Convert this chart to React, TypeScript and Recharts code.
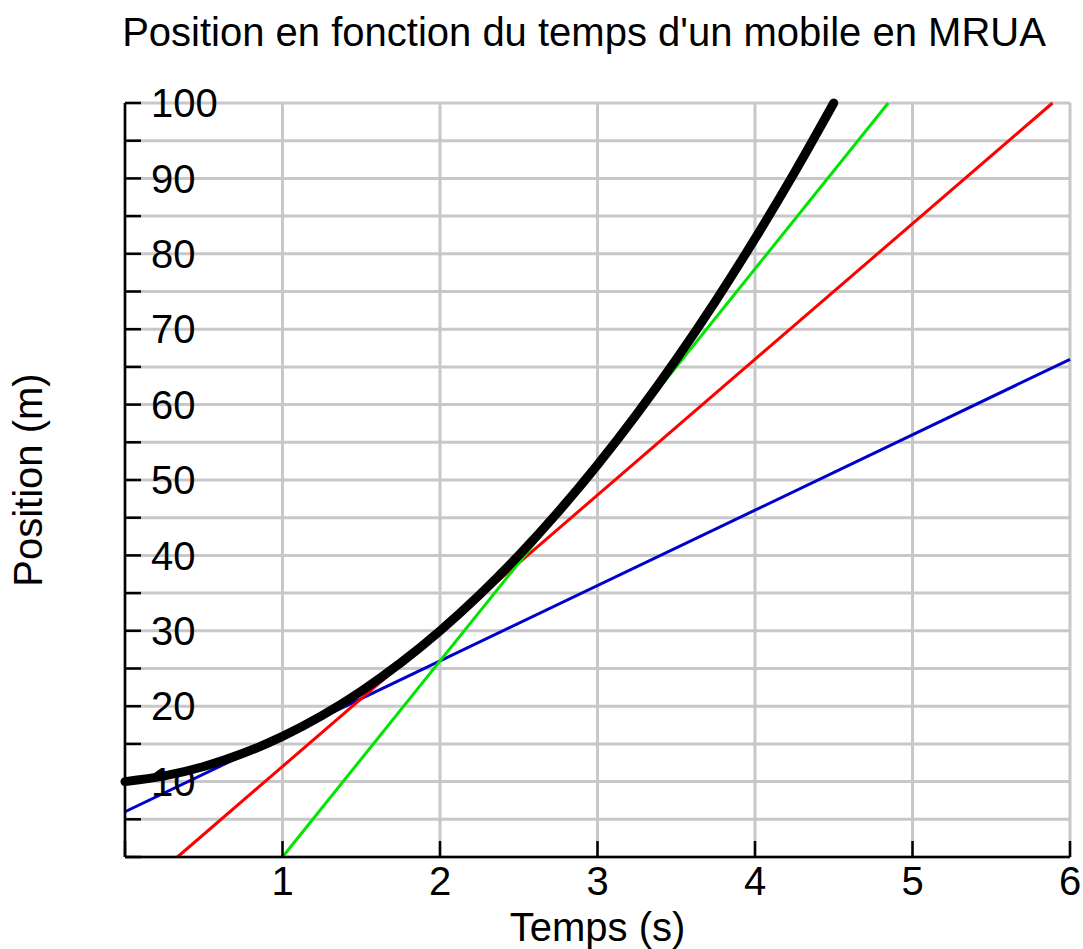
import React from 'react';
import { LineChart, Line, XAxis, YAxis, CartesianGrid } from 'recharts';

// Black curve: position (m) vs time (s)
const timeSamples = [0, 0.25, 0.5, 0.75, 1, 1.25, 1.5, 1.75, 2, 2.25, 2.5, 2.75, 3, 3.25, 3.5, 3.75, 4, 4.25, 4.5];
const positionSamples = [10, 10.75, 12, 13.75, 16, 18.75, 22, 25.75, 30, 34.75, 40, 45.75, 52, 58.75, 66, 73.75, 82, 90.75, 100];

// Tangent lines (end points)
const blueTimes = [0, 6];
const bluePositions = [6, 66];
const redTimes = [0.333, 5.889];
const redPositions = [0, 100];
const greenTimes = [1, 4.846];
const greenPositions = [0, 100];

const xTicks = [0, 1, 2, 3, 4, 5, 6];
const yTicks = [0, 5, 10, 15, 20, 25, 30, 35, 40, 45, 50, 55, 60, 65, 70, 75, 80, 85, 90, 95, 100];

const TITLE = "Position en fonction du temps d'un mobile en MRUA";
const X_LABEL = 'Temps (s)';
const Y_LABEL = 'Position (m)';

const zip = (ts: number[], ps: number[]) => ts.map((t, i) => ({ t, pos: ps[i] }));

const curveData = zip(timeSamples, positionSamples);
const blueData = zip(blueTimes, bluePositions);
const redData = zip(redTimes, redPositions);
const greenData = zip(greenTimes, greenPositions);

const FONT = '"Liberation Sans", Arial, sans-serif';

const XTick = (props: any) => {
  const { x, y, payload } = props;
  const v = payload.value;
  return (
    <g>
      <line x1={x} x2={x} y1={y} y2={y - 16} stroke="#000" strokeWidth={2.5} />
      {v !== 0 && (
        <text x={x} y={y + 10} dy="0.71em" textAnchor="middle" fontSize={40} fill="#000" fontFamily={FONT}>
          {v}
        </text>
      )}
    </g>
  );
};

const YTick = (props: any) => {
  const { x, y, payload } = props;
  const v = payload.value;
  return (
    <g>
      <line x1={x} x2={x + 16} y1={y} y2={y} stroke="#000" strokeWidth={2.5} />
      {v % 10 === 0 && v !== 0 && (
        <text x={x + 26} y={y} dy="0.355em" textAnchor="start" fontSize={40} fill="#000" fontFamily={FONT}>
          {v}
        </text>
      )}
    </g>
  );
};

export default function App() {
  return (
    <div style={{ position: 'absolute', left: 0, top: 0, width: 1083, height: 949, background: '#fff', fontFamily: FONT }}>
      <svg width={1083} height={70} style={{ position: 'absolute', left: 0, top: 0 }}>
        <text x={584} y={46} textAnchor="middle" fontSize={40} fill="#000" fontFamily={FONT}>
          {TITLE}
        </text>
      </svg>
      <div style={{ position: 'absolute', left: 0, top: 0 }}>
        <LineChart width={1083} height={949} margin={{ top: 103, right: 13, bottom: 0, left: 0 }} style={{ fontFamily: FONT }}>
          <CartesianGrid stroke="#c8c8c8" strokeWidth={3} />
          <XAxis
            dataKey="t"
            type="number"
            domain={[0, 6]}
            ticks={xTicks}
            height={92}
            tickSize={0}
            tickMargin={0}
            tickLine={false}
            axisLine={{ stroke: '#000', strokeWidth: 2.5 }}
            tick={<XTick />}
            allowDuplicatedCategory={false}
            label={{ value: X_LABEL, position: 'insideBottom', offset: 8, fontSize: 40, fill: '#000', fontFamily: FONT }}
          />
          <YAxis
            type="number"
            domain={[0, 100]}
            ticks={yTicks}
            width={125}
            tickSize={0}
            tickMargin={0}
            tickLine={false}
            interval={0}
            axisLine={{ stroke: '#000', strokeWidth: 2.5 }}
            tick={<YTick />}
            label={{ value: Y_LABEL, angle: -90, position: 'insideLeft', offset: 28, fontSize: 40, fill: '#000', fontFamily: FONT, style: { textAnchor: 'middle' } }}
          />
          <Line data={blueData} dataKey="pos" type="linear" stroke="#0000cc" strokeWidth={3} dot={false} isAnimationActive={false} />
          <Line data={redData} dataKey="pos" type="linear" stroke="#ff0000" strokeWidth={3} dot={false} isAnimationActive={false} />
          <Line data={greenData} dataKey="pos" type="linear" stroke="#00e600" strokeWidth={3} dot={false} isAnimationActive={false} />
          <Line data={curveData} dataKey="pos" type="monotone" stroke="#000" strokeWidth={9} strokeLinecap="round" dot={false} isAnimationActive={false} />
        </LineChart>
      </div>
    </div>
  );
}
